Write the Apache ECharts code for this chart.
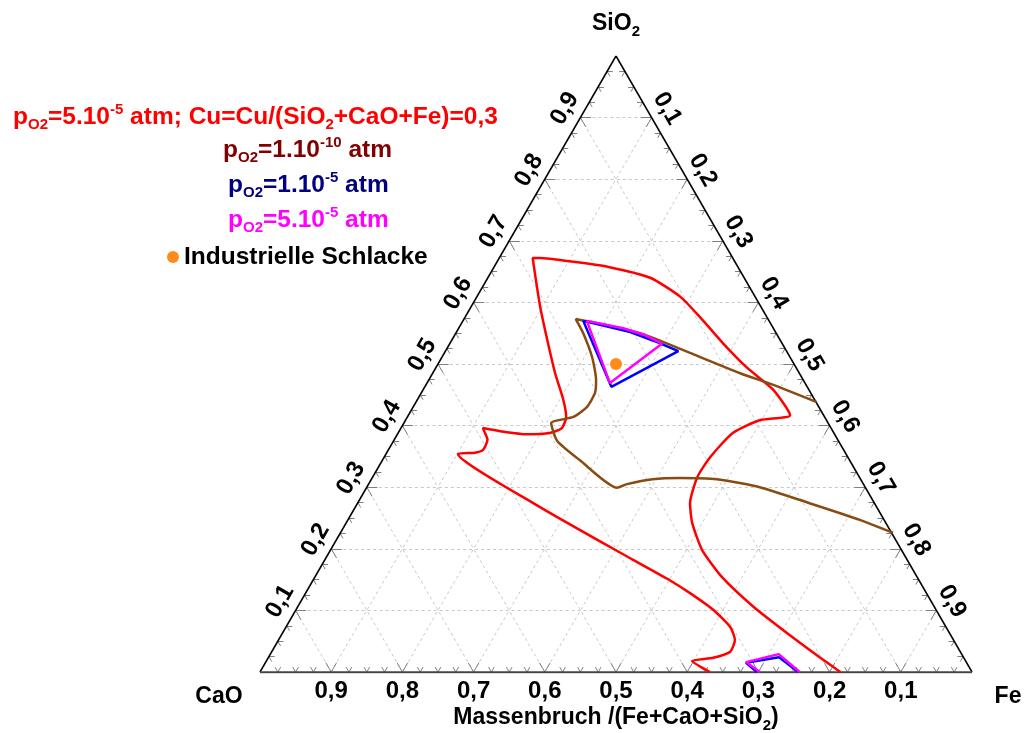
<!DOCTYPE html>
<html>
<head>
<meta charset="utf-8">
<script src="https://cdn.jsdelivr.net/npm/echarts@6/dist/echarts.min.js"></script>
<style>
  html, body { margin: 0; padding: 0; background: #fff; }
  #chart { width: 1025px; height: 733px; }
</style>
</head>
<body>
<div id="chart"></div>
<script>
// all points are mass fractions [Fe, SiO2]; CaO = 1 - Fe - SiO2
const redCurve = [
  [0.632, 0], [0.598, 0.018], [0.625, 0.023], [0.644, 0.033], [0.641, 0.052],
  [0.624, 0.073], [0.586, 0.101], [0.540, 0.128], [0.501, 0.149], [0.433, 0.182],
  [0.253, 0.271], [0.101, 0.354], [0.124, 0.356], [0.133, 0.360], [0.131, 0.377],
  [0.122, 0.388], [0.115, 0.396], [0.142, 0.391], [0.182, 0.386], [0.213, 0.388],
  [0.226, 0.396], [0.223, 0.414], [0.205, 0.442], [0.172, 0.485], [0.134, 0.539],
  [0.097, 0.593], [0.062, 0.648], [0.047, 0.672], [0.057, 0.672], [0.107, 0.666],
  [0.159, 0.658], [0.228, 0.640], [0.286, 0.609], [0.330, 0.576], [0.383, 0.534],
  [0.437, 0.494], [0.492, 0.458], [0.536, 0.417], [0.498, 0.409], [0.470, 0.388],
  [0.458, 0.349], [0.456, 0.317], [0.467, 0.274], [0.486, 0.242], [0.522, 0.198],
  [0.572, 0.154], [0.640, 0.106], [0.709, 0.063], [0.774, 0.024], [0.815, 0]
];
const brownCurve = [
  [0.776, 0.226], [0.719, 0.247], [0.635, 0.274], [0.552, 0.300], [0.485, 0.313],
  [0.432, 0.315], [0.395, 0.313], [0.363, 0.305], [0.352, 0.299], [0.277, 0.344],
  [0.230, 0.375], [0.207, 0.404], [0.233, 0.414], [0.244, 0.430], [0.244, 0.453],
  [0.235, 0.474], [0.211, 0.511], [0.179, 0.550], [0.157, 0.573], [0.206, 0.563],
  [0.259, 0.550], [0.298, 0.536], [0.345, 0.518], [0.432, 0.485], [0.488, 0.466],
  [0.563, 0.438]
];
const blueUpper = [[0.169, 0.570], [0.244, 0.552], [0.286, 0.537], [0.327, 0.521], [0.262, 0.463], [0.169, 0.570]];
const blueLower = [[0.698, 0], [0.675, 0.015], [0.717, 0.024], [0.756, 0]];
const magentaUpper = [[0.174, 0.570], [0.231, 0.558], [0.267, 0.547], [0.298, 0.533], [0.257, 0.469], [0.174, 0.570]];
const magentaLower = [[0.702, 0], [0.675, 0.016], [0.714, 0.029], [0.758, 0]];
const slag = [[0.25, 0.5]];

const tickValues = [0.1, 0.2, 0.3, 0.4, 0.5, 0.6, 0.7, 0.8, 0.9];
const tickLabels = ['0,1', '0,2', '0,3', '0,4', '0,5', '0,6', '0,7', '0,8', '0,9'];

const H = Math.sqrt(3) / 2;
const toXY = (p) => [p[0] + p[1] / 2, p[1] * H];
const FONT_FAMILY = '"Liberation Sans", Arial, sans-serif';
const FONT = 'bold 24px ' + FONT_FAMILY;

// grid lines, three directions
const gridSegs = [];
tickValues.forEach(t => {
  gridSegs.push([[0, t], [1 - t, t]]);
  gridSegs.push([[t, 0], [t, 1 - t]]);
  gridSegs.push([[1 - t, 0], [0, 1 - t]]);
});

// small ticks every 0.025, bigger every 0.1
const tickSegs = [];
for (let i = 1; i < 40; i++) {
  const a = i / 40;
  const L = i % 4 === 0 ? 0.015 : 0.008;
  tickSegs.push([[a, 0], [a, L]], [[a, 0], [a - L, L]]);
  tickSegs.push([[0, a], [L, a]], [[0, a], [L, a - L]]);
  tickSegs.push([[a, 1 - a], [a - L, 1 - a]], [[a, 1 - a], [a, 1 - a - L]]);
}

const segData = (segs) => segs.map(s => ({ coords: s.map(toXY) }));

const labelSeries = (toPt, labelOf, dx, dy, rot) => ({
  type: 'custom',
  coordinateSystem: 'cartesian2d',
  silent: true,
  z: 6,
  data: tickValues.map((v, i) => [...toXY(toPt(v)), i]),
  renderItem: (params, api) => {
    const p = api.coord([api.value(0), api.value(1)]);
    return {
      type: 'text', x: p[0] + dx, y: p[1] + dy, rotation: rot,
      style: {
        text: labelOf(api.value(2)), font: FONT, fill: '#000',
        align: 'center', verticalAlign: 'middle',
        textAlign: 'center', textVerticalAlign: 'middle'
      }
    };
  }
});

const curve = (data, color, z, smooth) => ({
  type: 'line',
  data: data.map(toXY),
  showSymbol: false,
  silent: true,
  smooth: smooth || false,
  z: z,
  lineStyle: { color: color, width: 2.5 }
});

const richLine = (color, size) => ({
  m: { fontSize: size, fontWeight: 'bold', fontFamily: FONT_FAMILY, fill: color, lineHeight: 30 },
  sub: { fontSize: 15, fontWeight: 'bold', fontFamily: FONT_FAMILY, fill: color, lineHeight: 14, verticalAlign: 'bottom' },
  sup: { fontSize: 15, fontWeight: 'bold', fontFamily: FONT_FAMILY, fill: color, lineHeight: 14, verticalAlign: 'top' }
});

const chart = echarts.init(document.getElementById('chart'));
chart.setOption({
  animation: false,
  backgroundColor: '#fff',
  grid: { left: 260, top: 56, width: 712, height: 616 },
  xAxis: { type: 'value', min: 0, max: 1, show: false },
  yAxis: { type: 'value', min: 0, max: H, show: false },
  graphic: [
    { type: 'text', x: 13, y: 117, style: { text: '{m|p}{sub|O2}{m|=5.10}{sup|-5}{m| atm; Cu=Cu/(SiO}{sub|2}{m|+CaO+Fe)=0,3}', rich: richLine('#ff0000', 24.5), verticalAlign: 'middle' } },
    { type: 'text', x: 223, y: 150, style: { text: '{m|p}{sub|O2}{m|=1.10}{sup|-10}{m| atm}', rich: richLine('#800000', 24.5), verticalAlign: 'middle' } },
    { type: 'text', x: 228, y: 185, style: { text: '{m|p}{sub|O2}{m|=1.10}{sup|-5}{m| atm}', rich: richLine('#000080', 24.5), verticalAlign: 'middle' } },
    { type: 'text', x: 228, y: 220, style: { text: '{m|p}{sub|O2}{m|=5.10}{sup|-5}{m| atm}', rich: richLine('#ff00ff', 24.5), verticalAlign: 'middle' } },
    { type: 'circle', shape: { cx: 173, cy: 257, r: 6 }, style: { fill: '#ff8c1a' } },
    { type: 'text', x: 184, y: 257, style: { text: 'Industrielle Schlacke', font: 'bold 24.5px ' + FONT_FAMILY, fill: '#000', verticalAlign: 'middle' } },
    { type: 'text', x: 616, y: 24, style: { text: '{m|SiO}{sub|2}', rich: richLine('#000', 23), align: 'center', verticalAlign: 'middle' } },
    { type: 'text', x: 219, y: 697, style: { text: 'CaO', font: 'bold 23px ' + FONT_FAMILY, fill: '#000', align: 'center', verticalAlign: 'middle' } },
    { type: 'text', x: 1008, y: 697, style: { text: 'Fe', font: 'bold 23px ' + FONT_FAMILY, fill: '#000', align: 'center', verticalAlign: 'middle' } },
    { type: 'text', x: 616, y: 718, style: { text: '{m|Massenbruch /(Fe+CaO+SiO}{sub|2}{m|)}', rich: richLine('#000', 23), align: 'center', verticalAlign: 'middle' } }
  ],
  series: [
    {
      type: 'lines', coordinateSystem: 'cartesian2d', silent: true, z: 1,
      data: segData(gridSegs),
      lineStyle: { color: '#c8c8c8', width: 1, type: [3, 3], opacity: 1 }
    },
    {
      type: 'lines', coordinateSystem: 'cartesian2d', silent: true, z: 2,
      data: segData(tickSegs),
      lineStyle: { color: '#808080', width: 1, opacity: 1 }
    },
    {
      type: 'lines', coordinateSystem: 'cartesian2d', silent: true, z: 3,
      data: segData([[[0, 0], [0, 1]], [[0, 1], [1, 0]]]),
      lineStyle: { color: '#000', width: 1.5, opacity: 1 }
    },
    {
      type: 'lines', coordinateSystem: 'cartesian2d', silent: true, z: 3,
      data: segData([[[0, 0], [1, 0]]]),
      lineStyle: { color: '#444', width: 2.5, opacity: 1 }
    },
    curve(redCurve, '#ff0000', 4, 0.2),
    curve(brownCurve, '#8a4b12', 4, 0.2),
    curve(blueUpper, '#0000ff', 4),
    curve(blueLower, '#0000ff', 4),
    curve(magentaUpper, '#ff00ff', 5),
    curve(magentaLower, '#ff00ff', 5),
    {
      type: 'scatter', data: slag.map(toXY), symbolSize: 12, silent: true, z: 6,
      itemStyle: { color: '#ff8c1a', opacity: 1 }
    },
    labelSeries(v => [v, 0], i => tickLabels[8 - i], 0, 19, 0),
    labelSeries(v => [0, v], i => tickLabels[i], -15.6, -9, Math.PI / 3),
    labelSeries(v => [v, 1 - v], i => tickLabels[i], 15.6, -9, -Math.PI / 3)
  ]
});
</script>
</body>
</html>
